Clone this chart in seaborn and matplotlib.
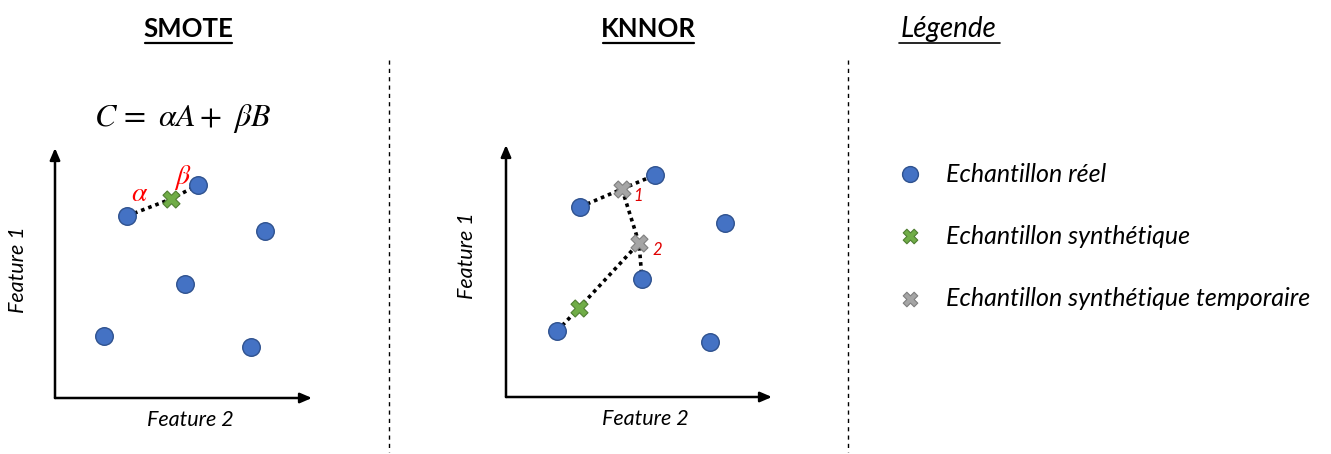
import matplotlib
matplotlib.use("Agg")
import matplotlib.pyplot as plt
from matplotlib.lines import Line2D
import seaborn as sns

sns.set_style("white")
plt.rcParams['font.family'] = ['Lato', 'DejaVu Sans']
plt.rcParams['mathtext.fontset'] = 'stix'
plt.rcParams['text.color'] = 'black'

# ---- data (panel-local coordinates) ----
smote_real_x = [72, 143, 210, 130, 49, 196]
smote_real_y = [182, 213, 167, 114, 62, 51]
smote_syn_x = [116]
smote_syn_y = [199]

knnor_real_x = [74, 149, 219, 136, 51, 204]
knnor_real_y = [190, 222, 174, 118, 66, 55]
knnor_tmp_x = [116, 133]
knnor_tmp_y = [208, 154]
knnor_syn_x = [73]
knnor_syn_y = [89]

titles = ["SMOTE", "KNNOR"]
legend_title = "Légende"
legend_labels = ["Echantillon réel", "Echantillon synthétique",
                 "Echantillon synthétique temporaire"]
formula = r"$C\,=\,\,\alpha A+\,\,\beta B$"

BLUE, BLUE_E = "#4472C4", "#2F528F"
GREEN, GREEN_E = "#70AD47", "#507E32"
GRAY, GRAY_E = "#A5A5A5", "#7F7F7F"

W, H = 1331, 454
fig = plt.figure(figsize=(W / 100, H / 100), dpi=100)

def px_axes(left, top, width, height):
    return fig.add_axes([left / W, 1 - (top + height) / H, width / W, height / H])

def setup(ax, xmax, ymax):
    ax.set_xlim(0, xmax)
    ax.set_ylim(0, ymax)
    ax.set_axis_off()
    ax.annotate("", xy=(1, 0), xytext=(0, 0), xycoords="axes fraction",
                arrowprops=dict(arrowstyle="-|>,head_length=0.7,head_width=0.3",
                                color="black", lw=1.8, shrinkA=0, shrinkB=0))
    ax.annotate("", xy=(0, 1), xytext=(0, 0), xycoords="axes fraction",
                arrowprops=dict(arrowstyle="-|>,head_length=0.7,head_width=0.3",
                                color="black", lw=1.8, shrinkA=0, shrinkB=0))

dot = dict(color="black", lw=2.6, linestyle=(0, (1, 1.1)), zorder=1)
real_kw = dict(marker="o", s=160, color=BLUE, edgecolor=BLUE_E, linewidth=1, zorder=3)
syn_kw = dict(marker="X", s=150, color=GREEN, edgecolor=GREEN_E, linewidth=0.8, zorder=4)
tmp_kw = dict(marker="X", s=150, color=GRAY, edgecolor=GRAY_E, linewidth=0.8, zorder=4)

# ---- SMOTE panel ----
ax1 = px_axes(55, 148, 257, 250)
setup(ax1, 257, 250)
ax1.plot([smote_real_x[0], smote_syn_x[0], smote_real_x[1]],
         [smote_real_y[0], smote_syn_y[0], smote_real_y[1]], **dot)
sns.scatterplot(x=smote_real_x, y=smote_real_y, ax=ax1, legend=False, **real_kw)
sns.scatterplot(x=smote_syn_x, y=smote_syn_y, ax=ax1, legend=False, **syn_kw)
ax1.text(85, 205, r"$\alpha$", color="red", fontsize=20, ha="center", va="center")
ax1.text(128, 221, r"$\beta$", color="red", fontsize=20, ha="center", va="center")

# ---- KNNOR panel ----
ax2 = px_axes(506, 145, 266, 252)
setup(ax2, 266, 252)
ax2.plot([knnor_real_x[0], knnor_tmp_x[0], knnor_real_x[1]],
         [knnor_real_y[0], knnor_tmp_y[0], knnor_real_y[1]], **dot)
ax2.plot([knnor_tmp_x[0], knnor_tmp_x[1], knnor_real_x[3]],
         [knnor_tmp_y[0], knnor_tmp_y[1], knnor_real_y[3]], **dot)
ax2.plot([knnor_real_x[4], knnor_syn_x[0], knnor_tmp_x[1]],
         [knnor_real_y[4], knnor_syn_y[0], knnor_tmp_y[1]], **dot)
sns.scatterplot(x=knnor_real_x, y=knnor_real_y, ax=ax2, legend=False, **real_kw)
sns.scatterplot(x=knnor_tmp_x, y=knnor_tmp_y, ax=ax2, legend=False, **tmp_kw)
sns.scatterplot(x=knnor_syn_x, y=knnor_syn_y, ax=ax2, legend=False, **syn_kw)
for i, (x, y) in enumerate(zip(knnor_tmp_x, knnor_tmp_y)):
    ax2.text(x + 16 + 2 * i, y - 7, str(i + 1), color="#E00000", fontsize=12,
             style="italic", ha="center", va="center")

# ---- figure-level text ----
def ftext(x, y, s, **kw):
    fig.text(x / W, 1 - y / H, s, **kw)

def underline(x0, x1, y, lw=1.6):
    fig.add_artist(Line2D([x0 / W, x1 / W], [1 - y / H, 1 - y / H],
                          color="black", lw=lw, transform=fig.transFigure))

ftext(188, 29, titles[0], fontsize=18.5, fontweight="bold", ha="center", va="center")
underline(145, 232, 43)
ftext(648, 29, titles[1], fontsize=18.5, fontweight="bold", ha="center", va="center")
underline(603, 694, 43)
ftext(949, 29, legend_title, fontsize=20, style="italic", ha="center", va="center")
underline(899, 1000, 43, lw=1.2)

ftext(183, 119, formula, fontsize=23, ha="center", va="center")

ftext(190, 420, "Feature 2", fontsize=15.5, style="italic", ha="center", va="center")
ftext(18, 270, "Feature 1", fontsize=15.5, style="italic", ha="center", va="center", rotation=90)
ftext(645, 419, "Feature 2", fontsize=15.5, style="italic", ha="center", va="center")
ftext(467, 256, "Feature 1", fontsize=15.5, style="italic", ha="center", va="center", rotation=90)

# dashed separators
for xs in (389, 848):
    fig.add_artist(Line2D([xs / W, xs / W], [1 - 60 / H, 1 - 452 / H], color="black",
                          lw=1.0, linestyle=(0, (3, 3)), transform=fig.transFigure))

# ---- legend panel ----
axl = px_axes(880, 140, 450, 180)
axl.set_xlim(0, 450)
axl.set_ylim(180, 0)
axl.set_axis_off()
leg_y = [34, 96, 159]
sns.scatterplot(x=[30], y=[leg_y[0]], ax=axl, legend=False, **{**real_kw, "s": 130})
sns.scatterplot(x=[30], y=[leg_y[1]], ax=axl, legend=False, **{**syn_kw, "s": 110})
sns.scatterplot(x=[30], y=[leg_y[2]], ax=axl, legend=False, **{**tmp_kw, "s": 110})
for y, lab in zip(leg_y, legend_labels):
    axl.text(66, y, lab, fontsize=18, style="italic", ha="left", va="center")

fig.savefig("out.png", dpi=100)
